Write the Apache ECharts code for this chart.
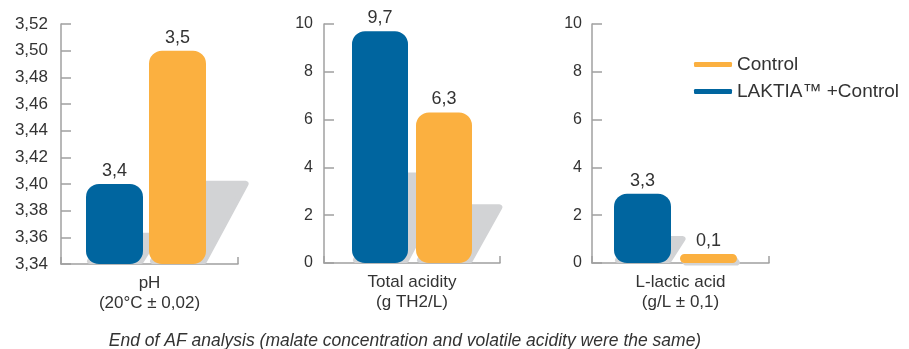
<!DOCTYPE html>
<html>
<head>
<meta charset="utf-8">
<script src="https://cdn.jsdelivr.net/npm/echarts@6/dist/echarts.min.js"></script>
<style>html,body{margin:0;padding:0;background:#fff}#c{width:909px;height:349px}</style>
</head>
<body>
<div id="c"></div>
<script>
const categories = ['pH\n(20°C ± 0,02)', 'Total acidity\n(g TH2/L)', 'L-lactic acid\n(g/L ± 0,1)'];
const laktiaValues = [3.40, 9.7, 2.9];
const controlValues = [3.50, 6.3, 0.38];
const laktiaLabels = ['3,4', '9,7', '3,3'];
const controlLabels = ['3,5', '6,3', '0,1'];
const yMin = [3.34, 0, 0];
const yMax = [3.52, 10, 10];
const yStep = [0.02, 2, 2];
const legendNames = ['Control', 'LAKTIA™ +Control'];
const caption = 'End of AF analysis (malate concentration and volatile acidity were the same)';

const BLUE = '#00659f', ORANGE = '#fbb040', SHADOW = '#d2d3d5', TEXT = '#333333', AXIS = '#a0a0a0';
const FONT = '"Liberation Sans", Arial, sans-serif';

const grids = [
  {left: 61, top: 24, width: 177, height: 240},
  {left: 324, top: 24, width: 176, height: 239},
  {left: 592, top: 24, width: 177, height: 239}
];
const barW = [57, 56, 57];
const gaps = [6, 8, 9];
const spacerW = [1, 0, 1];   // invisible spacer column shifting the pair left
const yLabelSize = [17, 16, 16];
const yLabelMargin = [13, 11, 10];

const xAxes = [], yAxes = [], series = [];
grids.forEach((g, i) => {
  xAxes.push({
    type: 'category', gridIndex: i, data: [categories[i]],
    axisLine: {lineStyle: {color: AXIS, width: 1.5}},
    axisTick: {show: true, inside: true, length: 7, lineStyle: {color: AXIS, width: 1.5}},
    axisLabel: {color: TEXT, fontSize: 17, fontFamily: FONT, lineHeight: 20, margin: 9}
  });
  yAxes.push({
    type: 'value', gridIndex: i, min: yMin[i], max: yMax[i], interval: yStep[i],
    splitLine: {show: false},
    axisLine: {show: true, lineStyle: {color: AXIS, width: 1.5}},
    axisTick: {show: true, inside: true, length: 10, lineStyle: {color: AXIS, width: 1.5}},
    axisLabel: {color: TEXT, fontSize: yLabelSize[i], fontFamily: FONT, margin: yLabelMargin[i],
      formatter: v => (yStep[i] < 1 ? v.toFixed(2) : String(Math.round(v))).replace('.', ',')}
  });
  const bw = barW[i], gap = gaps[i];
  const barGap = (gap / bw * 100) + '%';
  const shift = spacerW[i] > 0 ? (spacerW[i] + gap) / 2 : 0;
  // shadows
  series.push({
    type: 'custom', xAxisIndex: i, yAxisIndex: i, z: 1, silent: true,
    data: [[0, laktiaValues[i], 0], [0, controlValues[i], 1]],
    renderItem: (params, api) => {
      const v = api.value(1), k = api.value(2);
      const top = api.coord([0, v]);
      const base = api.coord([0, yMin[i]]);
      const off = bw / 2 + gap / 2;
      const cx = top[0] - shift + (k === 0 ? -off : off);
      const l = cx - bw / 2 + 4, r = cx + bw / 2 - 2;
      const by = base[1] - 3;
      const h = 0.39 * (base[1] - top[1]);
      const s = 0.5 * h;
      return {
        type: 'polygon',
        shape: {points: [[l, by], [r, by], [r + s, base[1] - h + 3], [l + s, base[1] - h + 3]]},
        style: {fill: SHADOW, stroke: SHADOW, lineWidth: 6, lineJoin: 'round'}
      };
    }
  });
  // base stacks (transparent) so bars start at the axis minimum
  [['l', laktiaValues, laktiaLabels, BLUE, legendNames[1]], ['c', controlValues, controlLabels, ORANGE, legendNames[0]]].forEach(([st, vals, labs, col, nm]) => {
    series.push({
      type: 'bar', xAxisIndex: i, yAxisIndex: i, stack: st + i, barWidth: bw, barGap: barGap,
      data: [yMin[i]], itemStyle: {color: 'rgba(0,0,0,0)'}, silent: true, z: 2
    });
    series.push({
      name: nm, type: 'bar', xAxisIndex: i, yAxisIndex: i, stack: st + i, barWidth: bw, barGap: barGap,
      data: [vals[i] - yMin[i]], z: 3,
      itemStyle: {color: col, borderRadius: 13},
      label: {show: true, position: 'top', distance: 4, color: TEXT, fontSize: 18, fontFamily: FONT,
        formatter: () => labs[i]}
    });
  });
  if (spacerW[i] > 0) {
    series.push({
      type: 'bar', xAxisIndex: i, yAxisIndex: i, stack: 's' + i, barWidth: spacerW[i], barGap: barGap,
      data: [yMin[i]], itemStyle: {color: 'rgba(0,0,0,0)'}, silent: true, z: 2
    });
  }
});

const chart = echarts.init(document.getElementById('c'), null, {renderer: 'canvas'});
chart.setOption({
  animation: false,
  backgroundColor: '#fff',
  grid: grids,
  xAxis: xAxes,
  yAxis: yAxes,
  series: series,
  legend: {
    data: legendNames, orient: 'vertical', left: 689, top: 50, itemGap: 8,
    icon: 'roundRect', itemWidth: 38, itemHeight: 5,
    textStyle: {color: TEXT, fontSize: 19, fontFamily: FONT}
  },
  title: {
    text: caption, left: 400, top: 327, textAlign: 'center',
    textStyle: {color: TEXT, fontSize: 17.5, fontStyle: 'italic', fontWeight: 'normal', fontFamily: FONT}
  }
});
</script>
</body>
</html>
